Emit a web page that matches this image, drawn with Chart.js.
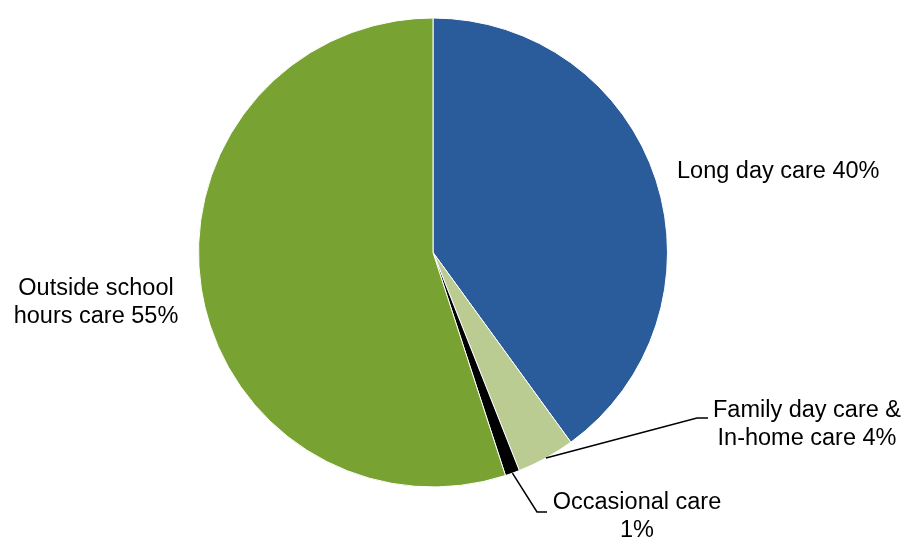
<!DOCTYPE html>
<html>
<head>
<meta charset="utf-8">
<script src="https://cdn.jsdelivr.net/npm/chart.js@4"></script>
<style>
  html, body { margin: 0; padding: 0; background: #fff; }
  #wrap { width: 907px; height: 541px; }
</style>
</head>
<body>
<div id="wrap"><canvas id="careChart" width="907" height="541"></canvas></div>
<script>
// Chart data
const categories = ['Long day care', 'Family day care & In-home care', 'Occasional care', 'Outside school hours care'];
const shares = [40, 4, 1, 55];
const sliceColors = ['#2A5B9A', '#BACC92', '#000000', '#78A232'];

// Label text lines per slice
const labelLines = [
    ['Long day care 40%'],
    ['Family day care &', 'In-home care 4%'],
    ['Occasional care', '1%'],
    ['Outside school', 'hours care 55%']
];

// label placement (x, first line y, alignment) and optional leader elbow
const labelLayout = [
    { x: 677, y: 172, align: 'left' },
    { x: 807, y: 411, align: 'center', elbow: [697, 418], end: [708, 418] },
    { x: 637, y: 503, align: 'center', elbow: [537, 512], end: [547, 512] },
    { x: 96, y: 289, align: 'center' }
];

const labelPlugin = {
    id: 'sliceLabels',
    afterDraw(chart) {
        const ctx = chart.ctx;
        const arcs = chart.getDatasetMeta(0).data;
        ctx.save();
        ctx.font = '23.5px "Liberation Sans", Arial, sans-serif';
        ctx.fillStyle = '#000';
        ctx.textBaseline = 'middle';

        arcs.forEach((arc, i) => {
            const lay = labelLayout[i];
            if (lay.elbow) {
                const mid = (arc.startAngle + arc.endAngle) / 2;
                const sx = arc.x + Math.cos(mid) * arc.outerRadius;
                const sy = arc.y + Math.sin(mid) * arc.outerRadius;
                ctx.beginPath();
                ctx.strokeStyle = '#000';
                ctx.lineWidth = 1.5;
                ctx.moveTo(sx, sy);
                ctx.lineTo(lay.elbow[0], lay.elbow[1]);
                ctx.lineTo(lay.end[0], lay.end[1]);
                ctx.stroke();
            }
            ctx.textAlign = lay.align;
            labelLines[i].forEach((line, j) => {
                ctx.fillText(line, lay.x, lay.y + j * 28);
            });
        });
        ctx.restore();
    }
};

new Chart(document.getElementById('careChart').getContext('2d'), {
    type: 'pie',
    data: {
        labels: categories,
        datasets: [{
            data: shares,
            backgroundColor: sliceColors,
            borderColor: '#ffffff',
            borderWidth: 1
        }]
    },
    options: {
        responsive: false,
        animation: false,
        layout: {
            padding: { top: 17, bottom: 53, left: 198, right: 239 }
        },
        plugins: {
            legend: { display: false },
            tooltip: { enabled: false }
        }
    },
    plugins: [labelPlugin]
});
</script>
</body>
</html>
